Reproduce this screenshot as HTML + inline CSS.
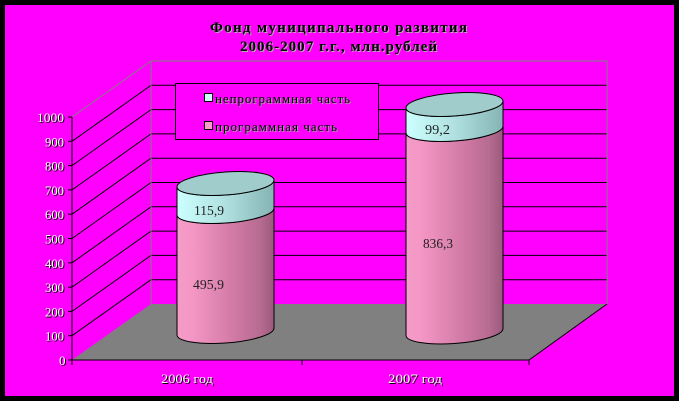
<!DOCTYPE html>
<html><head><meta charset="utf-8"><style>
html,body{margin:0;padding:0;background:#000;}
svg{display:block;}
text{font-family:"Liberation Serif","DejaVu Serif",serif;}
</style></head><body>
<svg width="679" height="401" viewBox="0 0 679 401" xmlns="http://www.w3.org/2000/svg">
<defs>
<linearGradient id="pk" x1="0" y1="0" x2="1" y2="0">
<stop offset="0" stop-color="#f49cc8"/>
<stop offset="0.15" stop-color="#f597c6"/>
<stop offset="0.55" stop-color="#d47ca8"/>
<stop offset="0.85" stop-color="#b86c92"/>
<stop offset="1" stop-color="#9a5a7c"/>
</linearGradient>
<linearGradient id="cy" x1="0" y1="0" x2="1" y2="0">
<stop offset="0" stop-color="#ccffff"/>
<stop offset="0.5" stop-color="#b0e0e0"/>
<stop offset="1" stop-color="#86b4b4"/>
</linearGradient>
</defs>
<rect x="0" y="0" width="679" height="401" fill="#000"/>
<rect x="5" y="5" width="669" height="391" fill="#ff00ff"/>

<!-- title -->
<g font-weight="bold" font-size="15">
<text x="211" y="33" textLength="257" lengthAdjust="spacing" fill="#b0b0b0">Фонд муниципального развития</text>
<text x="210" y="32" textLength="257" lengthAdjust="spacing" fill="#000">Фонд муниципального развития</text>
<text x="241" y="52" textLength="197" lengthAdjust="spacing" fill="#b0b0b0">2006-2007 г.г., млн.рублей</text>
<text x="240" y="51" textLength="197" lengthAdjust="spacing" fill="#000">2006-2007 г.г., млн.рублей</text>
</g>

<!-- floor -->
<polygon points="72,360 151,304 607,304 529,360" fill="#808080"/>
<line x1="529" y1="360" x2="607" y2="304" stroke="#000" stroke-width="1"/>

<!-- back wall gridlines -->
<g stroke="#000" stroke-width="1">
<line x1="151" y1="279.7" x2="607" y2="279.7"/>
<line x1="151" y1="255.4" x2="607" y2="255.4"/>
<line x1="151" y1="231.1" x2="607" y2="231.1"/>
<line x1="151" y1="206.8" x2="607" y2="206.8"/>
<line x1="151" y1="182.5" x2="607" y2="182.5"/>
<line x1="151" y1="158.2" x2="607" y2="158.2"/>
<line x1="151" y1="133.9" x2="607" y2="133.9"/>
<line x1="151" y1="109.6" x2="607" y2="109.6"/>
<line x1="151" y1="85.3" x2="607" y2="85.3"/>
<line x1="72" y1="335.7" x2="151" y2="279.7"/>
<line x1="72" y1="311.4" x2="151" y2="255.4"/>
<line x1="72" y1="287.1" x2="151" y2="231.1"/>
<line x1="72" y1="262.8" x2="151" y2="206.8"/>
<line x1="72" y1="238.5" x2="151" y2="182.5"/>
<line x1="72" y1="214.2" x2="151" y2="158.2"/>
<line x1="72" y1="189.9" x2="151" y2="133.9"/>
<line x1="72" y1="165.6" x2="151" y2="109.6"/>
<line x1="72" y1="141.3" x2="151" y2="85.3"/>
</g>
<g stroke="#808080" stroke-width="1" fill="none">
<line x1="72" y1="117" x2="151" y2="61"/>
<polyline points="151,304 151,61 607,61 607,304"/>
</g>

<!-- legend -->
<rect x="175.5" y="83.5" width="203" height="56" fill="#ff00ff" stroke="#000" stroke-width="1"/>
<rect x="204.5" y="93.5" width="8" height="8" fill="#ccffff" stroke="#000" stroke-width="1"/>
<rect x="204.5" y="121.5" width="8" height="8" fill="#ff99cc" stroke="#000" stroke-width="1"/>
<g font-size="13">
<text x="216" y="104" textLength="135" lengthAdjust="spacing" fill="#a0a0a0">непрограммная часть</text>
<text x="215" y="103" textLength="135" lengthAdjust="spacing" fill="#000">непрограммная часть</text>
<text x="216" y="132" textLength="122" lengthAdjust="spacing" fill="#a0a0a0">программная часть</text>
<text x="215" y="131" textLength="122" lengthAdjust="spacing" fill="#000">программная часть</text>
</g>

<!-- bar 1 -->
<g transform="translate(225.5,0) skewY(-4) translate(-225.5,0)" stroke="#000" stroke-width="1">
<path d="M177,211.5 A48.5,11.5 0 0 0 274,211.5 L274,331.5 A48.5,11.5 0 0 1 177,331.5 Z" fill="url(#pk)"/>
<path d="M177,183.5 A48.5,11.5 0 0 0 274,183.5 L274,211.5 A48.5,11.5 0 0 1 177,211.5 Z" fill="url(#cy)"/>
<ellipse cx="225.5" cy="183.5" rx="48.5" ry="11.5" fill="#a0cccc"/>
</g>
<!-- bar 2 -->
<g transform="translate(454.5,0) skewY(-4) translate(-454.5,0)" stroke="#000" stroke-width="1">
<path d="M406,129.5 A48.5,11.5 0 0 0 503,129.5 L503,332 A48.5,11.5 0 0 1 406,332 Z" fill="url(#pk)"/>
<path d="M406,104.5 A48.5,11.5 0 0 0 503,104.5 L503,129.5 A48.5,11.5 0 0 1 406,129.5 Z" fill="url(#cy)"/>
<ellipse cx="454.5" cy="104.5" rx="48.5" ry="11.5" fill="#a0cccc"/>
</g>

<!-- data labels -->
<g font-size="14" fill="#222">
<text x="194" y="215" textLength="30" lengthAdjust="spacingAndGlyphs">115,9</text>
<text x="193" y="289" textLength="31" lengthAdjust="spacingAndGlyphs">495,9</text>
<text x="425" y="134" textLength="25" lengthAdjust="spacingAndGlyphs">99,2</text>
<text x="423" y="248" textLength="30" lengthAdjust="spacingAndGlyphs">836,3</text>
</g>

<!-- axes -->
<g stroke="#000" stroke-width="1">
<line x1="72" y1="117" x2="72" y2="365"/>
<line x1="72" y1="360" x2="529" y2="360"/>
<line x1="302" y1="360" x2="302" y2="365"/>
<line x1="529" y1="360" x2="529" y2="365"/>
<line x1="68" y1="360" x2="72" y2="360"/>
<line x1="68" y1="335.7" x2="72" y2="335.7"/>
<line x1="68" y1="311.4" x2="72" y2="311.4"/>
<line x1="68" y1="287.1" x2="72" y2="287.1"/>
<line x1="68" y1="262.8" x2="72" y2="262.8"/>
<line x1="68" y1="238.5" x2="72" y2="238.5"/>
<line x1="68" y1="214.2" x2="72" y2="214.2"/>
<line x1="68" y1="189.9" x2="72" y2="189.9"/>
<line x1="68" y1="165.6" x2="72" y2="165.6"/>
<line x1="68" y1="141.3" x2="72" y2="141.3"/>
<line x1="68" y1="117" x2="72" y2="117"/>
</g>

<!-- y labels -->
<g font-size="13">
<g fill="#000" transform="translate(1,1)">
<text x="37" y="122" textLength="27" lengthAdjust="spacingAndGlyphs">1000</text>
<text x="45" y="146.3" textLength="19" lengthAdjust="spacingAndGlyphs">900</text>
<text x="45" y="170.6" textLength="19" lengthAdjust="spacingAndGlyphs">800</text>
<text x="45" y="194.9" textLength="19" lengthAdjust="spacingAndGlyphs">700</text>
<text x="45" y="219.2" textLength="19" lengthAdjust="spacingAndGlyphs">600</text>
<text x="45" y="243.5" textLength="19" lengthAdjust="spacingAndGlyphs">500</text>
<text x="45" y="267.8" textLength="19" lengthAdjust="spacingAndGlyphs">400</text>
<text x="45" y="292.1" textLength="19" lengthAdjust="spacingAndGlyphs">300</text>
<text x="45" y="316.4" textLength="19" lengthAdjust="spacingAndGlyphs">200</text>
<text x="45" y="340.7" textLength="19" lengthAdjust="spacingAndGlyphs">100</text>
<text x="59" y="365">0</text>
</g>
<g fill="#fff">
<text x="37" y="122" textLength="27" lengthAdjust="spacingAndGlyphs">1000</text>
<text x="45" y="146.3" textLength="19" lengthAdjust="spacingAndGlyphs">900</text>
<text x="45" y="170.6" textLength="19" lengthAdjust="spacingAndGlyphs">800</text>
<text x="45" y="194.9" textLength="19" lengthAdjust="spacingAndGlyphs">700</text>
<text x="45" y="219.2" textLength="19" lengthAdjust="spacingAndGlyphs">600</text>
<text x="45" y="243.5" textLength="19" lengthAdjust="spacingAndGlyphs">500</text>
<text x="45" y="267.8" textLength="19" lengthAdjust="spacingAndGlyphs">400</text>
<text x="45" y="292.1" textLength="19" lengthAdjust="spacingAndGlyphs">300</text>
<text x="45" y="316.4" textLength="19" lengthAdjust="spacingAndGlyphs">200</text>
<text x="45" y="340.7" textLength="19" lengthAdjust="spacingAndGlyphs">100</text>
<text x="59" y="365">0</text>
</g>
</g>

<!-- x labels -->
<g font-size="13">
<text x="162" y="384" textLength="52" lengthAdjust="spacingAndGlyphs" fill="#000">2006 год</text>
<text x="161" y="383" textLength="52" lengthAdjust="spacingAndGlyphs" fill="#fff">2006 год</text>
<text x="389" y="384" textLength="54" lengthAdjust="spacingAndGlyphs" fill="#000">2007 год</text>
<text x="388" y="383" textLength="54" lengthAdjust="spacingAndGlyphs" fill="#fff">2007 год</text>
</g>
</svg>
</body></html>
